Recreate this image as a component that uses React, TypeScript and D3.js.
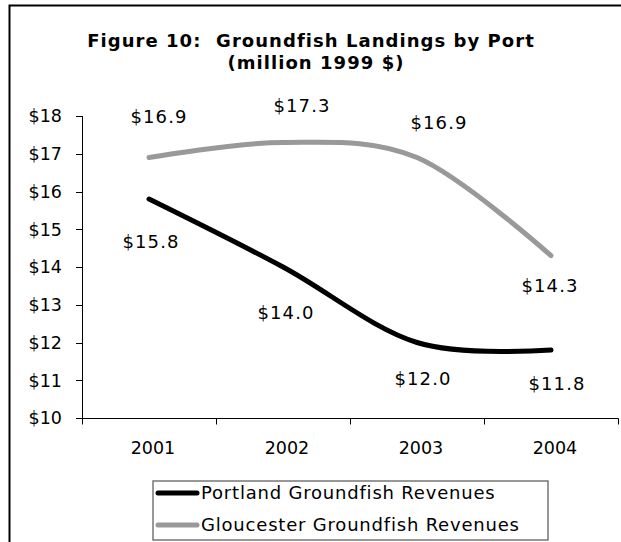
import React from "react";
import * as d3 from "d3";

const years = ["2001", "2002", "2003", "2004"];
const portland = [15.8, 14.0, 12.0, 11.8];
const gloucester = [16.9, 17.3, 16.9, 14.3];
const yTicks = [10, 11, 12, 13, 14, 15, 16, 17, 18];
const seriesNames = ["Portland Groundfish Revenues", "Gloucester Groundfish Revenues"];
const titleLines = ["Figure 10:  Groundfish Landings by Port", "(million 1999 $)"];

// label offsets (style, not data)
const gOffsets: [number, number][] = [[10, -41], [19, -37], [22, -35], [-1, 30]];
const pOffsets: [number, number][] = [[2, 42], [3, 46], [6, 36.5], [6, 33]];

const W = 621, H = 542;
const FONT = "'DejaVu Sans', Verdana, sans-serif";

export default function App() {
  const x = d3.scaleBand<string>().domain(years).range([82, 618]);
  const y = d3.scaleLinear().domain([10, 18]).range([418, 116]);
  const cx = (yr: string) => (x(yr) as number) + x.bandwidth() / 2;
  const line = d3
    .line<[string, number]>()
    .x((d) => cx(d[0]))
    .y((d) => y(d[1]))
    .curve(d3.curveCatmullRom.alpha(0));
  const pData = years.map((yr, i) => [yr, portland[i]] as [string, number]);
  const gData = years.map((yr, i) => [yr, gloucester[i]] as [string, number]);
  const fmt = (v: number) => "$" + v.toFixed(1);
  const xTickPos = [...years.map((yr) => x(yr) as number), 618];
  const lblStyle = { fontSize: 18, letterSpacing: 1.1 } as const;

  return (
    <svg width={W} height={H} style={{ position: "absolute", left: 0, top: 0, background: "#fff" }} fontFamily={FONT}>
      <rect x={0} y={0} width={W} height={H} fill="#fff" />
      <rect x={9.5} y={5.5} width={700} height={700} fill="none" stroke="#000" strokeWidth={2} />
      <text x={311} y={47} textAnchor="middle" fontSize={18} letterSpacing={1.05} fontWeight="bold" style={{ whiteSpace: "pre" }}>{titleLines[0]}</text>
      <text x={316} y={69} textAnchor="middle" fontSize={18} letterSpacing={1.05} fontWeight="bold" style={{ whiteSpace: "pre" }}>{titleLines[1]}</text>

      {/* y axis */}
      <line x1={82.5} x2={82.5} y1={y(18)} y2={y(10)} stroke="#000" strokeWidth={1} />
      {yTicks.map((t) => (
        <g key={t}>
          <line x1={76} x2={82.5} y1={Math.round(y(t)) + 0.5} y2={Math.round(y(t)) + 0.5} stroke="#000" />
          <text x={62} y={y(t)} dy="0.36em" textAnchor="end" fontSize={17.5}>{"$" + t}</text>
        </g>
      ))}
      {/* x axis */}
      <line x1={82} x2={618.5} y1={418.5} y2={418.5} stroke="#000" />
      {xTickPos.map((p, i) => (
        <line key={i} x1={Math.round(p) + 0.5} x2={Math.round(p) + 0.5} y1={418.5} y2={424.5} stroke="#000" />
      ))}
      {years.map((yr) => (
        <text key={yr} x={cx(yr) + 4} y={448} dy="0.36em" textAnchor="middle" fontSize={17.5}>{yr}</text>
      ))}

      <path d={line(gData) || ""} fill="none" stroke="#999999" strokeWidth={5} strokeLinecap="round" />
      <path d={line(pData) || ""} fill="none" stroke="#000" strokeWidth={5} strokeLinecap="round" />

      {gData.map((d, i) => (
        <text key={"g" + i} x={cx(d[0]) + gOffsets[i][0]} y={y(d[1]) + gOffsets[i][1]} dy="0.36em" textAnchor="middle" {...lblStyle}>{fmt(d[1])}</text>
      ))}
      {pData.map((d, i) => (
        <text key={"p" + i} x={cx(d[0]) + pOffsets[i][0]} y={y(d[1]) + pOffsets[i][1]} dy="0.36em" textAnchor="middle" {...lblStyle}>{fmt(d[1])}</text>
      ))}

      {/* legend */}
      <rect x={153} y={481} width={395} height={59} fill="#fff" stroke="#777" strokeWidth={1.5} />
      <line x1={158} x2={197} y1={493} y2={493} stroke="#000" strokeWidth={5} strokeLinecap="round" />
      <text x={201} y={493} dy="0.36em" fontSize={18} letterSpacing={0.8}>{seriesNames[0]}</text>
      <line x1={158} x2={197} y1={525} y2={525} stroke="#999999" strokeWidth={5} strokeLinecap="round" />
      <text x={201} y={525} dy="0.36em" fontSize={18} letterSpacing={0.8}>{seriesNames[1]}</text>
    </svg>
  );
}
